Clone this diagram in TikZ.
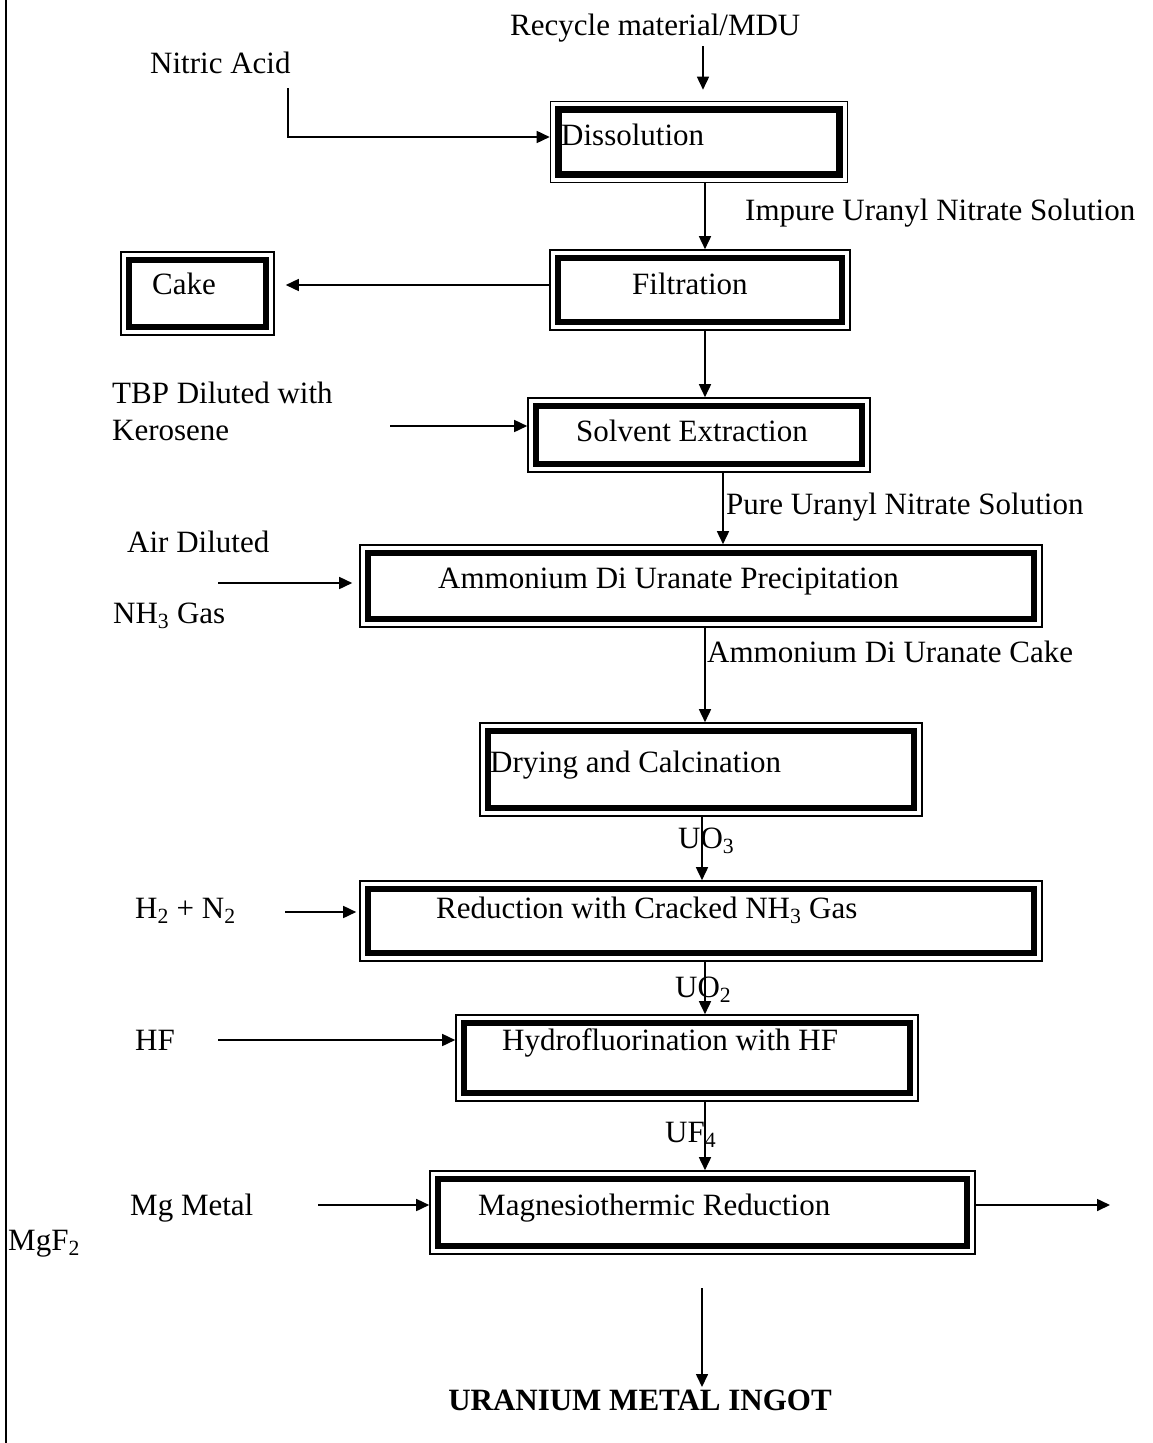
\documentclass[tikz,border=0pt]{standalone}
\usepackage{fontspec}
\setmainfont{Liberation Serif}
\usetikzlibrary{arrows.meta,calc}
\begin{document}
\begin{tikzpicture}[x=1pt,y=-1pt,
  procbox/.style={draw, line width=1.6pt, rectangle, inner sep=0pt,
    path picture={\draw[line width=6.5pt] ([shift={(7.8pt,-7.8pt)}]path picture bounding box.north west) rectangle ([shift={(-7.8pt,7.8pt)}]path picture bounding box.south east);}},
  lbl/.style={anchor=base west, inner sep=0pt, font=\fontsize{31}{37}\selectfont},
  arr/.style={-{Triangle[length=13pt,width=12pt]}, line width=1.6pt}]
\useasboundingbox (0,0) rectangle (1153,1443);
% left border line
\draw[line width=1.7pt] (6,0) -- (6,1443);
% process boxes
\node[procbox, minimum width=297pt, minimum height=81pt] (dis) at (699,142) {};
\node[procbox, minimum width=153pt, minimum height=83pt] (cake) at (197.5,293.5) {};
\node[procbox, minimum width=300pt, minimum height=80pt] (fil) at (700,290) {};
\node[procbox, minimum width=342pt, minimum height=74pt] (solv) at (699,435) {};
\node[procbox, minimum width=682pt, minimum height=82pt] (adu) at (701,586) {};
\node[procbox, minimum width=442pt, minimum height=93pt] (dry) at (701,769.5) {};
\node[procbox, minimum width=682pt, minimum height=80pt] (red) at (701,921) {};
\node[procbox, minimum width=462pt, minimum height=86pt] (hyd) at (687,1058) {};
\node[procbox, minimum width=545pt, minimum height=83pt] (mag) at (702.5,1212.5) {};
% texts
\node[lbl] (trec) at (510,35) {Recycle material/MDU};
\node[lbl] (tnit) at (150,73) {Nitric Acid};
\node[lbl] (tdis) at (561,145) {Dissolution};
\node[lbl] (timp) at (745,220) {Impure Uranyl Nitrate Solution};
\node[lbl] (tcake) at (152,294) {Cake};
\node[lbl] (tfil) at (632,294) {Filtration};
\node[lbl] (ttbp) at (112,403) {TBP Diluted with};
\node[lbl] (tker) at (112,440) {Kerosene};
\node[lbl] (tsolv) at (576,441) {Solvent Extraction};
\node[lbl] (tpure) at (726,514) {Pure Uranyl Nitrate Solution};
\node[lbl] (tair) at (127,552) {Air Diluted};
\node[lbl] (tnh) at (113,623) {NH\textsubscript{3} Gas};
\node[lbl] (tadu) at (438,588) {Ammonium Di Uranate Precipitation};
\node[lbl] (tadc) at (707,662) {Ammonium Di Uranate Cake};
\node[lbl] (tdry) at (490,772) {Drying and Calcination};
\node[lbl] (tuo3) at (678,848) {UO\textsubscript{3}};
\node[lbl] (th2) at (135,918) {H\textsubscript{2} + N\textsubscript{2}};
\node[lbl] (tred) at (436,918) {Reduction with Cracked NH\textsubscript{3} Gas};
\node[lbl] (tuo2) at (675,997) {UO\textsubscript{2}};
\node[lbl] (thf) at (135,1050) {HF};
\node[lbl] (thyd) at (502,1050) {Hydrofluorination with HF};
\node[lbl] (tuf4) at (665,1142) {UF\textsubscript{4}};
\node[lbl] (tmg) at (130,1215) {Mg Metal};
\node[lbl] (tmag) at (478,1215) {Magnesiothermic Reduction};
\node[lbl] (tmgf) at (8,1250) {MgF\textsubscript{2}};
\node[anchor=base, inner sep=0pt, font=\fontsize{31}{37}\selectfont\bfseries] (ting) at (640,1410) {URANIUM METAL INGOT};
% column coordinates
\coordinate (colA) at (705,0);
\coordinate (colB) at (723,0);
\coordinate (colC) at (702,0);
\coordinate (recA) at (703,46);
\coordinate (nitA) at (288,88);
\coordinate (tbpA) at (390,426);
\coordinate (airA) at (218,583);
\coordinate (hA) at (285,912);
\coordinate (hfA) at (218,1040);
\coordinate (mgA) at (318,1205);
\coordinate (mgout) at (1110,1205);
\coordinate (botA) at (702,1288);
\coordinate (botB) at (702,1387);
% connectors
\draw[arr, shorten >=11pt] (recA) -- (recA |- dis.north);
\draw[arr] (nitA) |- ([yshift=5pt]dis.west);
\draw[arr] (dis.south -| colA) -- (fil.north -| colA);
\draw[arr, shorten >=11pt] ([yshift=5pt]fil.west) -- ([yshift=5pt]fil.west -| cake.east);
\draw[arr] (fil.south -| colA) -- (solv.north -| colA);
\draw[arr] (tbpA) -- (tbpA -| solv.west);
\draw[arr] (solv.south -| colB) -- (adu.north -| colB);
\draw[arr, shorten >=7pt] (airA) -- (airA -| adu.west);
\draw[arr] (adu.south -| colA) -- (dry.north -| colA);
\draw[arr] (dry.south -| colC) -- (red.north -| colC);
\draw[arr, shorten >=3pt] (hA) -- (hA -| red.west);
\draw[arr] (red.south -| colA) -- (hyd.north -| colA);
\draw[arr] (hfA) -- (hfA -| hyd.west);
\draw[arr] (hyd.south -| colA) -- (mag.north -| colA);
\draw[arr] (mgA) -- (mgA -| mag.west);
\draw[arr] ([yshift=7.5pt]mag.east) -- (mgout);
\draw[arr] (botA) -- (botB);
\end{tikzpicture}
\end{document}
